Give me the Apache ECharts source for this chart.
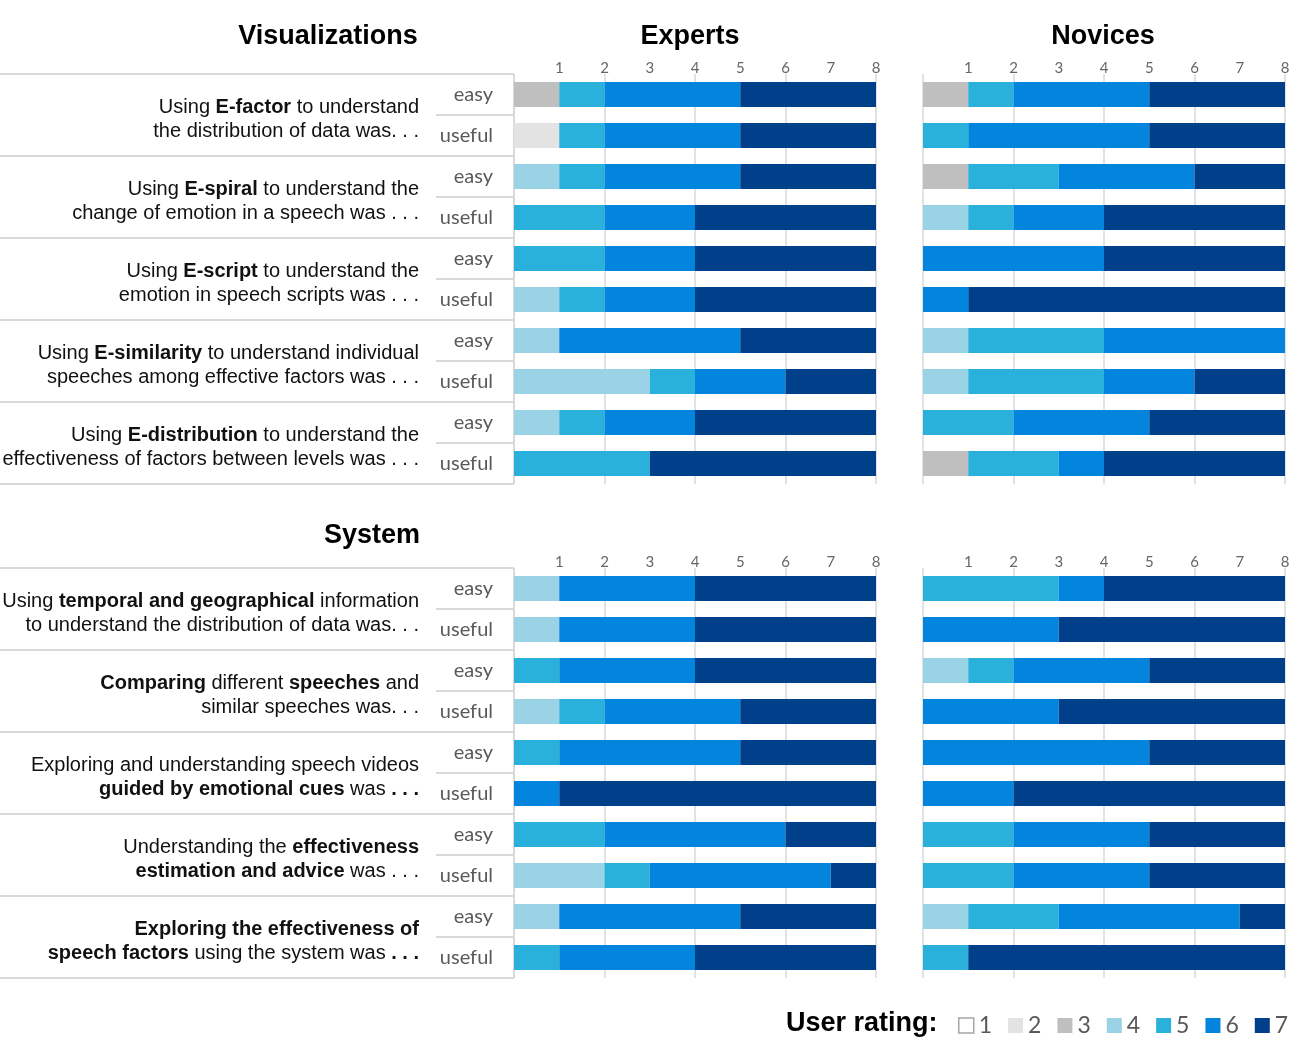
<!DOCTYPE html>
<html>
<head>
<meta charset="utf-8">
<script src="https://cdn.jsdelivr.net/npm/echarts@6/dist/echarts.min.js"></script>
<style>
html, body { margin: 0; padding: 0; background: #fff; }
#main { width: 1300px; height: 1041px; }
</style>
</head>
<body>
<div id="main"></div>
<script>
// rating 1..7 legend names and colours
var ratingNames = ['1', '2', '3', '4', '5', '6', '7'];
var ratingColors = ['#ffffff', '#e3e3e3', '#bfbfbf', '#9ad3e6', '#29b1dc', '#0385de', '#003f8a'];
var rowLabels = ['easy', 'useful', 'easy', 'useful', 'easy', 'useful', 'easy', 'useful', 'easy', 'useful'];

// counts of participants per rating (1..7) for each row
var visExperts = [
    [0, 0, 1, 0, 1, 3, 3],
    [0, 1, 0, 0, 1, 3, 3],
    [0, 0, 0, 1, 1, 3, 3],
    [0, 0, 0, 0, 2, 2, 4],
    [0, 0, 0, 0, 2, 2, 4],
    [0, 0, 0, 1, 1, 2, 4],
    [0, 0, 0, 1, 0, 4, 3],
    [0, 0, 0, 3, 1, 2, 2],
    [0, 0, 0, 1, 1, 2, 4],
    [0, 0, 0, 0, 3, 0, 5]
];
var visNovices = [
    [0, 0, 1, 0, 1, 3, 3],
    [0, 0, 0, 0, 1, 4, 3],
    [0, 0, 1, 0, 2, 3, 2],
    [0, 0, 0, 1, 1, 2, 4],
    [0, 0, 0, 0, 0, 4, 4],
    [0, 0, 0, 0, 0, 1, 7],
    [0, 0, 0, 1, 3, 4, 0],
    [0, 0, 0, 1, 3, 2, 2],
    [0, 0, 0, 0, 2, 3, 3],
    [0, 0, 1, 0, 2, 1, 4]
];
var sysExperts = [
    [0, 0, 0, 1, 0, 3, 4],
    [0, 0, 0, 1, 0, 3, 4],
    [0, 0, 0, 0, 1, 3, 4],
    [0, 0, 0, 1, 1, 3, 3],
    [0, 0, 0, 0, 1, 4, 3],
    [0, 0, 0, 0, 0, 1, 7],
    [0, 0, 0, 0, 2, 4, 2],
    [0, 0, 0, 2, 1, 4, 1],
    [0, 0, 0, 1, 0, 4, 3],
    [0, 0, 0, 0, 1, 3, 4]
];
var sysNovices = [
    [0, 0, 0, 0, 3, 1, 4],
    [0, 0, 0, 0, 0, 3, 5],
    [0, 0, 0, 1, 1, 3, 3],
    [0, 0, 0, 0, 0, 3, 5],
    [0, 0, 0, 0, 0, 5, 3],
    [0, 0, 0, 0, 0, 2, 6],
    [0, 0, 0, 0, 2, 3, 3],
    [0, 0, 0, 0, 2, 3, 3],
    [0, 0, 0, 1, 2, 4, 1],
    [0, 0, 0, 0, 1, 0, 7]
];

var visQuestions = [
    'Using {b|E-factor} to understand\nthe distribution of data was. . .',
    'Using {b|E-spiral} to understand the\nchange of emotion in a speech was . . .',
    'Using {b|E-script} to understand the\nemotion in speech scripts was . . .',
    'Using {b|E-similarity} to understand individual\nspeeches among effective factors was . . .',
    'Using {b|E-distribution} to understand the\neffectiveness of factors between levels was . . .'
];
var sysQuestions = [
    'Using {b|temporal and geographical} information\nto understand the distribution of data was. . .',
    '{b|Comparing} different {b|speeches} and\nsimilar speeches was. . .',
    'Exploring and understanding speech videos\n{b|guided by emotional cues} was {b|. . .}',
    'Understanding the {b|effectiveness}\n{b|estimation and advice} was . . .',
    '{b|Exploring the effectiveness of}\n{b|speech factors} using the system was {b|. . .}'
];

var LABEL_FONT = 'Lato, "Open Sans", sans-serif';
var TEXT_FONT = '"Liberation Sans", Arial, sans-serif';
var ROW_H = 41;

var panels = [
    { rows: visExperts, left: 514, top: 74, labels: true },
    { rows: visNovices, left: 923, top: 74, labels: false },
    { rows: sysExperts, left: 514, top: 568, labels: true },
    { rows: sysNovices, left: 923, top: 568, labels: false }
];

var grids = [], xAxes = [], yAxes = [], series = [];
panels.forEach(function (p, i) {
    grids.push({ left: p.left, top: p.top, width: 362, height: ROW_H * 10 });
    // tick labels 1..8
    xAxes.push({
        gridIndex: i, type: 'value', position: 'top', min: 0, max: 8, interval: 1,
        axisLine: { show: false }, axisTick: { show: false }, splitLine: { show: false },
        axisLabel: {
            margin: -2, color: '#666', fontSize: 15, fontFamily: LABEL_FONT,
            showMinLabel: true, showMaxLabel: true,
            formatter: function (v) { return v === 0 ? '' : String(v); }
        }
    });
    // grid lines every 2
    xAxes.push({
        gridIndex: i, type: 'value', position: 'top', min: 0, max: 8, interval: 2,
        axisLine: { show: false }, axisTick: { show: false }, axisLabel: { show: false },
        splitLine: { show: true, lineStyle: { color: '#d9d9d9', width: 1.5 } }
    });
    yAxes.push({
        gridIndex: i, type: 'category', data: rowLabels, inverse: true,
        axisLine: { show: false }, axisTick: { show: false },
        axisLabel: { show: p.labels, margin: 21, color: '#595959', fontSize: 20, fontFamily: LABEL_FONT, padding: [3, 0, 0, 0] }
    });
    ratingNames.forEach(function (name, r) {
        series.push({
            type: 'bar', name: name, stack: 'panel' + i,
            xAxisIndex: i * 2, yAxisIndex: i, barWidth: 25,
            itemStyle: { color: ratingColors[r] },
            data: p.rows.map(function (row) { return row[r]; })
        });
    });
});

var graphics = [];
function addTitle(text, x, y, align) {
    graphics.push({
        type: 'text', x: x, y: y,
        style: { text: text, align: align, verticalAlign: 'middle', fontSize: 27, fontWeight: 'bold', fontFamily: TEXT_FONT, fill: '#000' }
    });
}
addTitle('Visualizations', 328, 37, 'center');
addTitle('Experts', 690, 37, 'center');
addTitle('Novices', 1103, 37, 'center');
addTitle('System', 420, 536, 'right');

function addLine(x1, y1, x2, y2) {
    graphics.push({
        type: 'line', shape: { x1: x1, y1: y1, x2: x2, y2: y2 },
        style: { stroke: '#d9d9d9', lineWidth: 2 }
    });
}

[{ qs: visQuestions, top: 74 }, { qs: sysQuestions, top: 568 }].forEach(function (sec) {
    for (var k = 0; k <= sec.qs.length; k++) {
        addLine(0, sec.top + k * ROW_H * 2, 514, sec.top + k * ROW_H * 2);
    }
    addLine(514, sec.top, 514, sec.top + ROW_H * 10);
    sec.qs.forEach(function (q, k) {
        addLine(436, sec.top + k * ROW_H * 2 + ROW_H, 514, sec.top + k * ROW_H * 2 + ROW_H);
        graphics.push({
            type: 'text', x: 419, y: sec.top + k * ROW_H * 2 + ROW_H + 4,
            style: {
                text: q, align: 'right', verticalAlign: 'middle',
                fontSize: 20, fontFamily: TEXT_FONT, fill: '#111', lineHeight: 24,
                rich: { b: { fontWeight: 'bold', fontSize: 20, fontFamily: TEXT_FONT, fill: '#111', lineHeight: 24, align: 'right' } }
            }
        });
    });
});
addTitle('User rating:', 786, 1024, 'left');

var option = {
    animation: false,
    grid: grids,
    xAxis: xAxes,
    yAxis: yAxes,
    series: series,
    legend: {
        left: 958, top: 1014, width: 342, padding: 0, icon: 'rect',
        itemWidth: 15, itemHeight: 15, itemGap: 16,
        selectedMode: false,
        textStyle: { fontSize: 23, color: '#595959', fontFamily: LABEL_FONT },
        data: ratingNames.map(function (n, r) {
            return r === 0 ? { name: n, itemStyle: { color: '#fff', borderColor: '#a6a6a6', borderWidth: 1.5 } } : n;
        })
    },
    graphic: graphics
};

var myChart = echarts.init(document.getElementById('main'));
myChart.setOption(option);
</script>
</body>
</html>
